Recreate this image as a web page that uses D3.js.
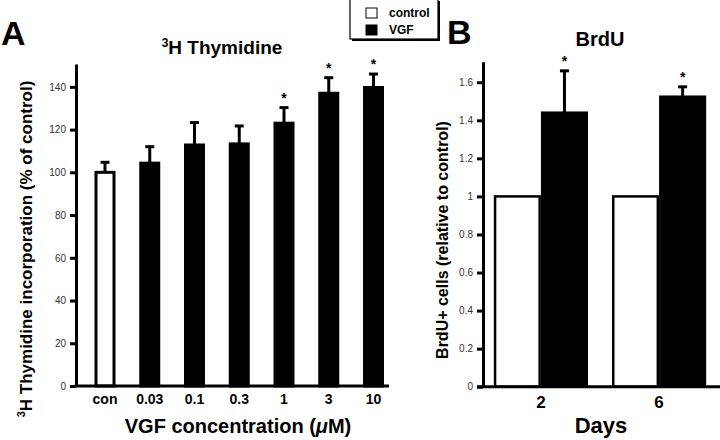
<!DOCTYPE html>
<html>
<head>
<meta charset="utf-8">
<script src="https://cdn.jsdelivr.net/npm/d3@7"></script>
<style>
  html, body { margin: 0; padding: 0; background: #fff; }
  svg { display: block; font-family: "Liberation Sans", Arial, Helvetica, sans-serif; }
</style>
</head>
<body>
<svg id="chart" width="720" height="440"></svg>
<script>
// ---- Panel A data ----
const concCategories = ["con", "0.03", "0.1", "0.3", "1", "3", "10"];
const thymidineMean  = [100, 104.3, 112.8, 113.3, 123, 137, 139.7];
const thymidineErr   = [4.7, 7.7, 10.5, 8.4, 7.3, 7.3, 6.3];
const thymidineSig   = [false, false, false, false, true, true, true];
const thymidineTicks = [0, 20, 40, 60, 80, 100, 120, 140];

// ---- Panel B data ----
const dayCategories  = ["2", "6"];
const brduGroups     = ["control", "VGF"];
const brduControl    = [1, 1];
const brduVGF        = [1.44, 1.524];
const brduVGFErr     = [0.22, 0.052];
const brduTicks      = [0, 0.2, 0.4, 0.6, 0.8, 1, 1.2, 1.4, 1.6];

const svg = d3.select("#chart");

// ================= Panel A =================
const yA = d3.scaleLinear().domain([0, 150.7]).range([386, 64]);
const xA = d3.scalePoint().domain(concCategories).range([105, 373.5]);
const barWA = 18;

const gA = svg.append("g");

gA.selectAll("rect.bar").data(concCategories).join("rect")
  .attr("x", d => xA(d) - barWA / 2)
  .attr("y", (d, i) => yA(thymidineMean[i]))
  .attr("width", barWA)
  .attr("height", (d, i) => yA(0) - yA(thymidineMean[i]))
  .attr("fill", (d, i) => i === 0 ? "#fff" : "#000")
  .attr("stroke", "#000").attr("stroke-width", 3);

gA.selectAll("line.err").data(concCategories).join("line")
  .attr("x1", d => xA(d)).attr("x2", d => xA(d))
  .attr("y1", (d, i) => yA(thymidineMean[i]))
  .attr("y2", (d, i) => yA(thymidineMean[i] + thymidineErr[i]))
  .attr("stroke", "#000").attr("stroke-width", 3);
gA.selectAll("line.cap").data(concCategories).join("line")
  .attr("x1", d => xA(d) - 4.5).attr("x2", d => xA(d) + 4.5)
  .attr("y1", (d, i) => yA(thymidineMean[i] + thymidineErr[i]))
  .attr("y2", (d, i) => yA(thymidineMean[i] + thymidineErr[i]))
  .attr("stroke", "#000").attr("stroke-width", 3);

gA.selectAll("text.sig").data(concCategories.filter((d, i) => thymidineSig[i])).join("text")
  .attr("x", d => xA(d))
  .attr("y", d => { const i = concCategories.indexOf(d); return yA(thymidineMean[i] + thymidineErr[i]) - 5; })
  .attr("text-anchor", "middle").attr("font-size", 14).attr("font-weight", "bold")
  .text("*");

const axA = gA.append("g").attr("transform", "translate(76,0)")
  .call(d3.axisLeft(yA).tickValues(thymidineTicks).tickSize(6).tickSizeOuter(0).tickPadding(4));
axA.select(".domain").attr("stroke-width", 3);
axA.selectAll(".tick line").attr("stroke-width", 3);
axA.selectAll(".tick text").attr("font-size", 10).attr("fill", "#333")
  .attr("font-family", "'Liberation Sans', Arial, sans-serif");

gA.append("line").attr("x1", 74.5).attr("x2", 389).attr("y1", yA(0)).attr("y2", yA(0))
  .attr("stroke", "#000").attr("stroke-width", 3);

gA.selectAll("text.xl").data(concCategories).join("text")
  .attr("x", d => xA(d)).attr("y", 404)
  .attr("text-anchor", "middle").attr("font-size", 14).attr("font-weight", "bold")
  .text(d => d);

const xtA = gA.append("text").attr("x", 238).attr("y", 433)
  .attr("text-anchor", "middle").attr("font-size", 20).attr("font-weight", "bold");
xtA.append("tspan").text("VGF concentration (");
xtA.append("tspan").attr("font-style", "italic").text("μ");
xtA.append("tspan").text("M)");

const ytA = gA.append("text").attr("transform", "translate(32,249) rotate(-90)")
  .attr("text-anchor", "middle").attr("font-size", 17).attr("font-weight", "bold");
ytA.append("tspan").attr("font-size", 11).attr("dy", -7).text("3");
ytA.append("tspan").attr("dy", 7).text("H Thymidine incorporation (% of control)");

const tA = gA.append("text").attr("x", 222).attr("y", 54)
  .attr("text-anchor", "middle").attr("font-size", 19).attr("font-weight", "bold");
tA.append("tspan").attr("font-size", 12).attr("dy", -7).text("3");
tA.append("tspan").attr("dy", 7).text("H Thymidine");

gA.append("text").attr("x", 1).attr("y", 45).attr("font-size", 34).attr("font-weight", "bold").text("A");

// ================= Panel B =================
const yB = d3.scaleLinear().domain([0, 1.708]).range([386.7, 61.7]);
const xB = d3.scaleBand().domain(dayCategories).range([482, 718]).paddingInner(0.203).paddingOuter(0.1);
const xSub = d3.scaleBand().domain(brduGroups).range([0, xB.bandwidth()]).padding(0);

const gB = svg.append("g");

const barData = [];
dayCategories.forEach((day, i) => {
  barData.push({ day, group: "control", v: brduControl[i] });
  barData.push({ day, group: "VGF", v: brduVGF[i], e: brduVGFErr[i] });
});

gB.selectAll("rect.bar").data(barData).join("rect")
  .attr("x", d => xB(d.day) + xSub(d.group) + 1.25)
  .attr("y", d => yB(d.v))
  .attr("width", xSub.bandwidth() - 2.5)
  .attr("height", d => yB(0) - yB(d.v))
  .attr("fill", d => d.group === "control" ? "#fff" : "#000")
  .attr("stroke", "#000").attr("stroke-width", 2.5);

const errData = barData.filter(d => d.e !== undefined);
gB.selectAll("line.err").data(errData).join("line")
  .attr("x1", d => xB(d.day) + xSub(d.group) + xSub.bandwidth() / 2)
  .attr("x2", d => xB(d.day) + xSub(d.group) + xSub.bandwidth() / 2)
  .attr("y1", d => yB(d.v)).attr("y2", d => yB(d.v + d.e))
  .attr("stroke", "#000").attr("stroke-width", 3);
gB.selectAll("line.cap").data(errData).join("line")
  .attr("x1", d => xB(d.day) + xSub(d.group) + xSub.bandwidth() / 2 - 4.5)
  .attr("x2", d => xB(d.day) + xSub(d.group) + xSub.bandwidth() / 2 + 4.5)
  .attr("y1", d => yB(d.v + d.e)).attr("y2", d => yB(d.v + d.e))
  .attr("stroke", "#000").attr("stroke-width", 3);
gB.selectAll("text.sig").data(errData).join("text")
  .attr("x", d => xB(d.day) + xSub(d.group) + xSub.bandwidth() / 2)
  .attr("y", d => yB(d.v + d.e) - 5)
  .attr("text-anchor", "middle").attr("font-size", 14).attr("font-weight", "bold")
  .text("*");

const axB = gB.append("g").attr("transform", "translate(483,0)")
  .call(d3.axisLeft(yB).tickValues(brduTicks).tickSize(6).tickSizeOuter(0).tickPadding(4)
    .tickFormat(d => String(+d.toFixed(1))));
axB.select(".domain").attr("stroke-width", 3);
axB.selectAll(".tick line").attr("stroke-width", 3);
axB.selectAll(".tick text").attr("font-size", 10).attr("fill", "#333")
  .attr("font-family", "'Liberation Sans', Arial, sans-serif");

gB.append("line").attr("x1", 477).attr("x2", 720).attr("y1", yB(0)).attr("y2", yB(0))
  .attr("stroke", "#000").attr("stroke-width", 3);

gB.selectAll("text.xl").data(dayCategories).join("text")
  .attr("x", d => xB(d) + xB.bandwidth() / 2).attr("y", 408)
  .attr("text-anchor", "middle").attr("font-size", 17).attr("font-weight", "bold")
  .text(d => d);

gB.append("text").attr("x", 601).attr("y", 433)
  .attr("text-anchor", "middle").attr("font-size", 22).attr("font-weight", "bold").text("Days");

gB.append("text").attr("transform", "translate(448,240) rotate(-90)")
  .attr("text-anchor", "middle").attr("font-size", 16).attr("font-weight", "bold")
  .text("BrdU+ cells (relative to control)");

gB.append("text").attr("x", 600).attr("y", 46)
  .attr("text-anchor", "middle").attr("font-size", 20).attr("font-weight", "bold").text("BrdU");

gB.append("text").attr("x", 447).attr("y", 44).attr("font-size", 34).attr("font-weight", "bold").text("B");

// ================= Legend =================
const lg = svg.append("g");
lg.append("rect").attr("x", 352).attr("y", 1).attr("width", 88).attr("height", 40).attr("fill", "#000");
lg.append("rect").attr("x", 350).attr("y", -1).attr("width", 88).attr("height", 40)
  .attr("fill", "#fff").attr("stroke", "#000").attr("stroke-width", 1.2);
lg.selectAll("rect.sw").data(brduGroups).join("rect")
  .attr("x", 366).attr("y", (d, i) => 8 + i * 17).attr("width", 11).attr("height", 10)
  .attr("fill", d => d === "control" ? "#fff" : "#000").attr("stroke", "#000").attr("stroke-width", 1);
lg.selectAll("text.lt").data(brduGroups).join("text")
  .attr("x", 389).attr("y", (d, i) => 17 + i * 17)
  .attr("font-size", 12).attr("font-weight", "bold").text(d => d);
</script>
</body>
</html>
